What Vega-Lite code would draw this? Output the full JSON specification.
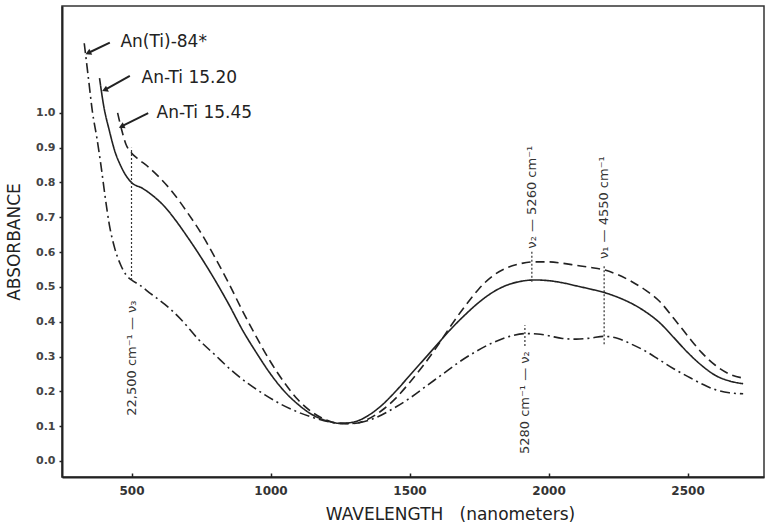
{
  "$schema": "https://vega.github.io/schema/vega-lite/v6.json",
  "width": 702,
  "height": 471,
  "autosize": {"type": "none"},
  "padding": {"left": 62, "top": 6, "right": 2, "bottom": 50},
  "background": "white",
  "config": {
    "view": {"stroke": "#333", "strokeWidth": 1.5},
    "font": "DejaVu Sans"
  },
  "datasets": {
    "curves": [
      {"series": "An(Ti)-84*", "nm": 330, "abs": 1.2},
      {"series": "An(Ti)-84*", "nm": 345, "abs": 1.1},
      {"series": "An(Ti)-84*", "nm": 360, "abs": 1.0},
      {"series": "An(Ti)-84*", "nm": 375, "abs": 0.93},
      {"series": "An(Ti)-84*", "nm": 390, "abs": 0.85},
      {"series": "An(Ti)-84*", "nm": 405, "abs": 0.76},
      {"series": "An(Ti)-84*", "nm": 420, "abs": 0.68},
      {"series": "An(Ti)-84*", "nm": 440, "abs": 0.61},
      {"series": "An(Ti)-84*", "nm": 460, "abs": 0.565},
      {"series": "An(Ti)-84*", "nm": 480, "abs": 0.535},
      {"series": "An(Ti)-84*", "nm": 500, "abs": 0.52},
      {"series": "An(Ti)-84*", "nm": 530, "abs": 0.505},
      {"series": "An(Ti)-84*", "nm": 570, "abs": 0.48},
      {"series": "An(Ti)-84*", "nm": 620, "abs": 0.45},
      {"series": "An(Ti)-84*", "nm": 680, "abs": 0.405},
      {"series": "An(Ti)-84*", "nm": 740, "abs": 0.35},
      {"series": "An(Ti)-84*", "nm": 800, "abs": 0.305},
      {"series": "An(Ti)-84*", "nm": 860, "abs": 0.26},
      {"series": "An(Ti)-84*", "nm": 920, "abs": 0.222},
      {"series": "An(Ti)-84*", "nm": 980, "abs": 0.19},
      {"series": "An(Ti)-84*", "nm": 1040, "abs": 0.162},
      {"series": "An(Ti)-84*", "nm": 1100, "abs": 0.14},
      {"series": "An(Ti)-84*", "nm": 1160, "abs": 0.123},
      {"series": "An(Ti)-84*", "nm": 1220, "abs": 0.111},
      {"series": "An(Ti)-84*", "nm": 1270, "abs": 0.107},
      {"series": "An(Ti)-84*", "nm": 1320, "abs": 0.11},
      {"series": "An(Ti)-84*", "nm": 1380, "abs": 0.125},
      {"series": "An(Ti)-84*", "nm": 1440, "abs": 0.15},
      {"series": "An(Ti)-84*", "nm": 1500, "abs": 0.18},
      {"series": "An(Ti)-84*", "nm": 1560, "abs": 0.215},
      {"series": "An(Ti)-84*", "nm": 1620, "abs": 0.25},
      {"series": "An(Ti)-84*", "nm": 1680, "abs": 0.285},
      {"series": "An(Ti)-84*", "nm": 1740, "abs": 0.315},
      {"series": "An(Ti)-84*", "nm": 1800, "abs": 0.34},
      {"series": "An(Ti)-84*", "nm": 1860, "abs": 0.358},
      {"series": "An(Ti)-84*", "nm": 1920, "abs": 0.366},
      {"series": "An(Ti)-84*", "nm": 1960, "abs": 0.365},
      {"series": "An(Ti)-84*", "nm": 2000, "abs": 0.36},
      {"series": "An(Ti)-84*", "nm": 2050, "abs": 0.352},
      {"series": "An(Ti)-84*", "nm": 2100, "abs": 0.35},
      {"series": "An(Ti)-84*", "nm": 2150, "abs": 0.353},
      {"series": "An(Ti)-84*", "nm": 2200, "abs": 0.358},
      {"series": "An(Ti)-84*", "nm": 2250, "abs": 0.352},
      {"series": "An(Ti)-84*", "nm": 2300, "abs": 0.335},
      {"series": "An(Ti)-84*", "nm": 2350, "abs": 0.315},
      {"series": "An(Ti)-84*", "nm": 2400, "abs": 0.29},
      {"series": "An(Ti)-84*", "nm": 2450, "abs": 0.265},
      {"series": "An(Ti)-84*", "nm": 2500, "abs": 0.243},
      {"series": "An(Ti)-84*", "nm": 2550, "abs": 0.222},
      {"series": "An(Ti)-84*", "nm": 2600, "abs": 0.205},
      {"series": "An(Ti)-84*", "nm": 2650, "abs": 0.196},
      {"series": "An(Ti)-84*", "nm": 2700, "abs": 0.193},

      {"series": "An-Ti 15.20", "nm": 385, "abs": 1.1},
      {"series": "An-Ti 15.20", "nm": 400, "abs": 1.02},
      {"series": "An-Ti 15.20", "nm": 420, "abs": 0.95},
      {"series": "An-Ti 15.20", "nm": 440, "abs": 0.89},
      {"series": "An-Ti 15.20", "nm": 460, "abs": 0.85},
      {"series": "An-Ti 15.20", "nm": 480, "abs": 0.82},
      {"series": "An-Ti 15.20", "nm": 500, "abs": 0.8},
      {"series": "An-Ti 15.20", "nm": 540, "abs": 0.783},
      {"series": "An-Ti 15.20", "nm": 580, "abs": 0.76},
      {"series": "An-Ti 15.20", "nm": 620, "abs": 0.73},
      {"series": "An-Ti 15.20", "nm": 660, "abs": 0.69},
      {"series": "An-Ti 15.20", "nm": 700, "abs": 0.645},
      {"series": "An-Ti 15.20", "nm": 750, "abs": 0.585},
      {"series": "An-Ti 15.20", "nm": 800, "abs": 0.52},
      {"series": "An-Ti 15.20", "nm": 850, "abs": 0.45},
      {"series": "An-Ti 15.20", "nm": 900, "abs": 0.375},
      {"series": "An-Ti 15.20", "nm": 950, "abs": 0.31},
      {"series": "An-Ti 15.20", "nm": 1000, "abs": 0.25},
      {"series": "An-Ti 15.20", "nm": 1050, "abs": 0.2},
      {"series": "An-Ti 15.20", "nm": 1100, "abs": 0.162},
      {"series": "An-Ti 15.20", "nm": 1150, "abs": 0.133},
      {"series": "An-Ti 15.20", "nm": 1200, "abs": 0.116},
      {"series": "An-Ti 15.20", "nm": 1250, "abs": 0.108},
      {"series": "An-Ti 15.20", "nm": 1300, "abs": 0.112},
      {"series": "An-Ti 15.20", "nm": 1350, "abs": 0.13},
      {"series": "An-Ti 15.20", "nm": 1400, "abs": 0.16},
      {"series": "An-Ti 15.20", "nm": 1450, "abs": 0.2},
      {"series": "An-Ti 15.20", "nm": 1500, "abs": 0.245},
      {"series": "An-Ti 15.20", "nm": 1550, "abs": 0.29},
      {"series": "An-Ti 15.20", "nm": 1600, "abs": 0.335},
      {"series": "An-Ti 15.20", "nm": 1650, "abs": 0.38},
      {"series": "An-Ti 15.20", "nm": 1700, "abs": 0.42},
      {"series": "An-Ti 15.20", "nm": 1750, "abs": 0.456},
      {"series": "An-Ti 15.20", "nm": 1800, "abs": 0.485},
      {"series": "An-Ti 15.20", "nm": 1850, "abs": 0.505},
      {"series": "An-Ti 15.20", "nm": 1900, "abs": 0.516},
      {"series": "An-Ti 15.20", "nm": 1950, "abs": 0.52},
      {"series": "An-Ti 15.20", "nm": 2000, "abs": 0.518},
      {"series": "An-Ti 15.20", "nm": 2050, "abs": 0.512},
      {"series": "An-Ti 15.20", "nm": 2100, "abs": 0.503},
      {"series": "An-Ti 15.20", "nm": 2150, "abs": 0.494},
      {"series": "An-Ti 15.20", "nm": 2200, "abs": 0.484},
      {"series": "An-Ti 15.20", "nm": 2250, "abs": 0.47},
      {"series": "An-Ti 15.20", "nm": 2300, "abs": 0.452},
      {"series": "An-Ti 15.20", "nm": 2350, "abs": 0.428},
      {"series": "An-Ti 15.20", "nm": 2400, "abs": 0.397},
      {"series": "An-Ti 15.20", "nm": 2450, "abs": 0.355},
      {"series": "An-Ti 15.20", "nm": 2500, "abs": 0.312},
      {"series": "An-Ti 15.20", "nm": 2550, "abs": 0.275},
      {"series": "An-Ti 15.20", "nm": 2600, "abs": 0.246},
      {"series": "An-Ti 15.20", "nm": 2650, "abs": 0.23},
      {"series": "An-Ti 15.20", "nm": 2700, "abs": 0.222},

      {"series": "An-Ti 15.45", "nm": 450, "abs": 1.0},
      {"series": "An-Ti 15.45", "nm": 465, "abs": 0.95},
      {"series": "An-Ti 15.45", "nm": 480, "abs": 0.91},
      {"series": "An-Ti 15.45", "nm": 500, "abs": 0.885},
      {"series": "An-Ti 15.45", "nm": 520, "abs": 0.87},
      {"series": "An-Ti 15.45", "nm": 560, "abs": 0.845},
      {"series": "An-Ti 15.45", "nm": 600, "abs": 0.815},
      {"series": "An-Ti 15.45", "nm": 650, "abs": 0.77},
      {"series": "An-Ti 15.45", "nm": 700, "abs": 0.715},
      {"series": "An-Ti 15.45", "nm": 750, "abs": 0.655},
      {"series": "An-Ti 15.45", "nm": 800, "abs": 0.585},
      {"series": "An-Ti 15.45", "nm": 850, "abs": 0.51},
      {"series": "An-Ti 15.45", "nm": 900, "abs": 0.43},
      {"series": "An-Ti 15.45", "nm": 950, "abs": 0.355},
      {"series": "An-Ti 15.45", "nm": 1000, "abs": 0.285},
      {"series": "An-Ti 15.45", "nm": 1050, "abs": 0.225},
      {"series": "An-Ti 15.45", "nm": 1100, "abs": 0.175},
      {"series": "An-Ti 15.45", "nm": 1150, "abs": 0.14},
      {"series": "An-Ti 15.45", "nm": 1200, "abs": 0.118},
      {"series": "An-Ti 15.45", "nm": 1250, "abs": 0.108},
      {"series": "An-Ti 15.45", "nm": 1300, "abs": 0.108},
      {"series": "An-Ti 15.45", "nm": 1350, "abs": 0.12},
      {"series": "An-Ti 15.45", "nm": 1400, "abs": 0.145},
      {"series": "An-Ti 15.45", "nm": 1450, "abs": 0.18},
      {"series": "An-Ti 15.45", "nm": 1500, "abs": 0.225},
      {"series": "An-Ti 15.45", "nm": 1550, "abs": 0.275},
      {"series": "An-Ti 15.45", "nm": 1600, "abs": 0.33},
      {"series": "An-Ti 15.45", "nm": 1650, "abs": 0.39},
      {"series": "An-Ti 15.45", "nm": 1700, "abs": 0.445},
      {"series": "An-Ti 15.45", "nm": 1750, "abs": 0.495},
      {"series": "An-Ti 15.45", "nm": 1800, "abs": 0.532},
      {"series": "An-Ti 15.45", "nm": 1850, "abs": 0.555},
      {"series": "An-Ti 15.45", "nm": 1900, "abs": 0.567},
      {"series": "An-Ti 15.45", "nm": 1950, "abs": 0.572},
      {"series": "An-Ti 15.45", "nm": 2000, "abs": 0.572},
      {"series": "An-Ti 15.45", "nm": 2050, "abs": 0.568},
      {"series": "An-Ti 15.45", "nm": 2100, "abs": 0.562},
      {"series": "An-Ti 15.45", "nm": 2150, "abs": 0.556},
      {"series": "An-Ti 15.45", "nm": 2200, "abs": 0.549},
      {"series": "An-Ti 15.45", "nm": 2250, "abs": 0.535},
      {"series": "An-Ti 15.45", "nm": 2300, "abs": 0.515},
      {"series": "An-Ti 15.45", "nm": 2350, "abs": 0.49},
      {"series": "An-Ti 15.45", "nm": 2400, "abs": 0.458},
      {"series": "An-Ti 15.45", "nm": 2450, "abs": 0.41},
      {"series": "An-Ti 15.45", "nm": 2500, "abs": 0.36},
      {"series": "An-Ti 15.45", "nm": 2550, "abs": 0.312},
      {"series": "An-Ti 15.45", "nm": 2600, "abs": 0.275},
      {"series": "An-Ti 15.45", "nm": 2650, "abs": 0.25},
      {"series": "An-Ti 15.45", "nm": 2700, "abs": 0.238}
    ],
    "guides": [
      {"nm": 500, "abs": 0.52, "abs2": 0.9},
      {"nm": 1940, "abs": 0.515, "abs2": 0.605},
      {"nm": 1915, "abs": 0.33, "abs2": 0.39},
      {"nm": 2200, "abs": 0.335, "abs2": 0.56}
    ],
    "arrows": [
      {"nm": 344, "abs": 1.172, "nm2": 422, "abs2": 1.202},
      {"nm": 404, "abs": 1.066, "nm2": 494, "abs2": 1.106},
      {"nm": 464, "abs": 0.961, "nm2": 560, "abs2": 0.999}
    ],
    "names": [
      {"label": "An(Ti)-84*", "nm": 460, "abs": 1.205},
      {"label": "An-Ti 15.20", "nm": 536, "abs": 1.1},
      {"label": "An-Ti 15.45", "nm": 590, "abs": 1.0}
    ],
    "bands": [
      {"label": "ν₂ — 5260 cm⁻¹", "nm": 1940, "abs": 0.61},
      {"label": "5280 cm⁻¹ — ν₂", "nm": 1915, "abs": 0.02},
      {"label": "ν₁ — 4550 cm⁻¹", "nm": 2200, "abs": 0.58},
      {"label": "22,500 cm⁻¹ — ν₃", "nm": 500, "abs": 0.13}
    ]
  },
  "encoding": {
    "x": {
      "field": "nm", "type": "quantitative",
      "scale": {"domain": [250, 2775], "nice": false, "zero": false},
      "axis": {
        "title": "WAVELENGTH\u00a0\u00a0\u00a0(nanometers)",
        "values": [500, 1000, 1500, 2000, 2500],
        "format": "d",
        "grid": false, "domainColor": "#222", "domainWidth": 2,
        "tickColor": "#222", "tickSize": -4, "tickWidth": 1.5,
        "labelFontSize": 12, "labelFontWeight": "bold", "labelColor": "#333", "labelPadding": 12,
        "titleFontSize": 17, "titleFontWeight": "normal", "titleColor": "#222",
        "titleX": 388, "titlePadding": 10
      }
    },
    "y": {
      "field": "abs", "type": "quantitative",
      "scale": {"domain": [-0.046, 1.307], "nice": false, "zero": false},
      "axis": {
        "title": "ABSORBANCE",
        "values": [0, 0.1, 0.2, 0.3, 0.4, 0.5, 0.6, 0.7, 0.8, 0.9, 1.0],
        "format": ".1f",
        "grid": false, "domainColor": "#222", "domainWidth": 2,
        "tickColor": "#222", "tickSize": 3, "tickWidth": 1.5,
        "labelFontSize": 11, "labelFontWeight": "bold", "labelColor": "#444", "labelPadding": 4,
        "titleFontSize": 17, "titleFontWeight": "normal", "titleColor": "#222", "titlePadding": 12
      }
    }
  },
  "layer": [
    {
      "data": {"name": "curves"},
      "mark": {"type": "line", "interpolate": "monotone", "strokeWidth": 1.6, "color": "#222"},
      "encoding": {
        "detail": {"field": "series"},
        "strokeDash": {
          "field": "series", "type": "nominal",
          "scale": {"domain": ["An-Ti 15.20", "An-Ti 15.45", "An(Ti)-84*"], "range": [[1, 0], [9, 5], [10, 4, 2, 4]]},
          "legend": null
        }
      }
    },
    {
      "data": {"name": "guides"},
      "mark": {"type": "rule", "strokeDash": [2, 2], "strokeWidth": 1.2, "color": "#333"},
      "encoding": {"y2": {"field": "abs2"}}
    },
    {
      "data": {"name": "arrows"},
      "mark": {"type": "rule", "strokeWidth": 2, "color": "#222"},
      "encoding": {"x2": {"field": "nm2"}, "y2": {"field": "abs2"}}
    },
    {
      "data": {"name": "arrows"},
      "mark": {"type": "point", "shape": "triangle-left", "filled": true, "size": 45, "angle": 335, "color": "#222", "opacity": 1}
    },
    {
      "data": {"name": "names"},
      "mark": {"type": "text", "align": "left", "baseline": "middle", "fontSize": 17, "color": "#222"},
      "encoding": {"text": {"field": "label"}}
    },
    {
      "data": {"name": "bands"},
      "mark": {"type": "text", "align": "left", "baseline": "middle", "angle": 270, "fontSize": 13, "color": "#333"},
      "encoding": {"text": {"field": "label"}}
    }
  ]
}
